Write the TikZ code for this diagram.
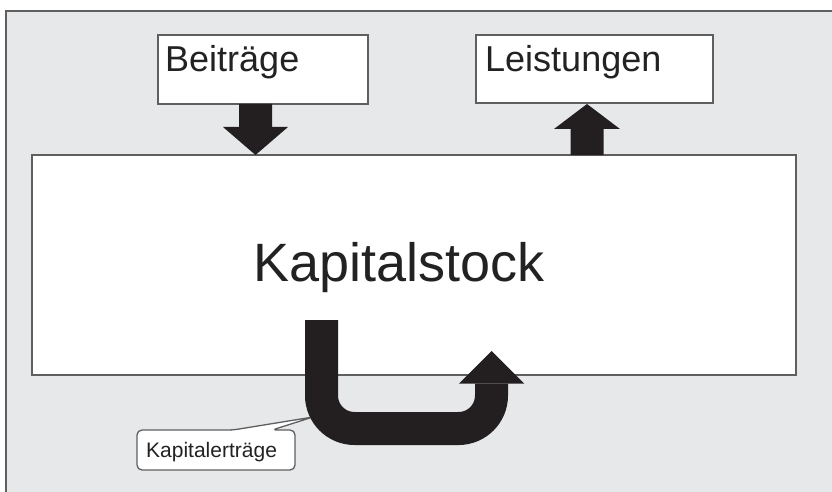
\documentclass[tikz,border=0pt]{standalone}
\usepackage{fontspec}
\setmainfont{Liberation Sans}
\definecolor{bggray}{RGB}{231,232,234}
\definecolor{linegray}{RGB}{95,95,95}
\definecolor{arrblack}{RGB}{35,31,32}
\definecolor{txt}{RGB}{34,34,34}
\begin{document}
\begin{tikzpicture}[x=1pt,y=-1pt,
  boxstyle/.style={draw=linegray, line width=1.6pt, fill=white, inner sep=0pt, outer sep=0pt, anchor=north west},
  lbl/.style={text=txt, inner sep=0pt, anchor=base west},
  blockarrow/.style={fill=arrblack, draw=none}]
\useasboundingbox (0,0) rectangle (832,492);
% background frame
\fill[bggray] (6,11) rectangle (832,492);
\draw[linegray, line width=1.5pt] (6,492) -- (6,11) -- (832,11);
% main box
\node[boxstyle, minimum width=764pt, minimum height=220pt] (stock) at (32,155) {};
\node[text=txt, inner sep=0pt, anchor=base, font=\fontsize{54}{60}\selectfont] (stocktxt) at (399,281) {Kapitalstock};
% top boxes
\node[boxstyle, minimum width=210pt, minimum height=69pt] (beit) at (158,35) {};
\node[lbl, font=\fontsize{36}{40}\selectfont] (beittxt) at (165,72) {Beiträge};
\node[boxstyle, minimum width=237pt, minimum height=68pt] (leist) at (476,35) {};
\node[lbl, font=\fontsize{36}{40}\selectfont] (leisttxt) at (485,72) {Leistungen};
% down arrow
\fill[blockarrow] (239,104) -- (272,104) -- (272,127) -- (288,127) -- (255.5,155) -- (223,127) -- (239,127) -- cycle;
% up arrow
\fill[blockarrow] (570.5,155) -- (603.5,155) -- (603.5,129) -- (620,129) -- (587,104) -- (554,129) -- (570.5,129) -- cycle;
% callout
\coordinate (ctip) at (313,417);
\draw[linegray, line width=1.3pt, fill=white, rounded corners=5pt]
  (137,450) |- (233,430) -- (ctip) -- (272,430) -| (295,470) -| cycle;
\node[lbl, font=\fontsize{21}{24}\selectfont] (ertr) at (146,457) {Kapitalerträge};
% U arrow
\draw[arrblack, line width=33pt, rounded corners=33pt]
  (321.5,320) -- (321.5,428.5) -- (491.5,428.5) -- (491.5,383.5);
\fill[blockarrow] (459,383.5) -- (524,383.5) -- (491.5,351) -- cycle;
\end{tikzpicture}
\end{document}
